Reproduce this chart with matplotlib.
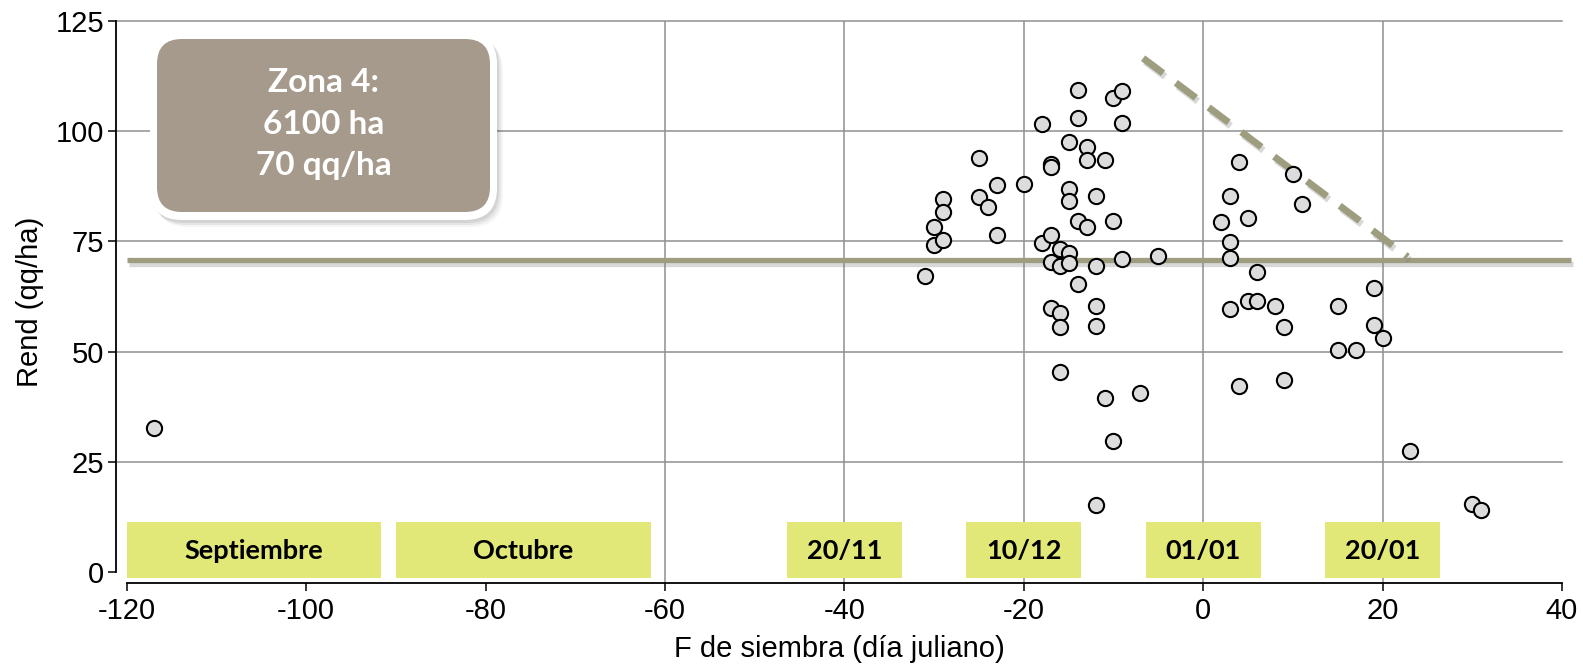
import matplotlib
matplotlib.use('Agg')
import matplotlib.pyplot as plt
import matplotlib.patches as mpatches
import matplotlib.transforms as mtransforms
import matplotlib.patheffects as pe
import numpy as np

plt.rc('font', family='Liberation Sans', size=21)
plt.rc('axes', unicode_minus=False)

# sowing date (julian day, 0 = 01/01) and yield (qq/ha)
dia = [-117, -31, -30, -30, -29, -29, -29, -25, -25, -24, -23, -23, -20,
       -18, -18, -17, -17, -17, -17, -17, -16, -16, -16, -16, -16,
       -15, -15, -15, -15, -15, -14, -14, -14, -14, -13, -13, -13,
       -12, -12, -12, -12, -12, -11, -11, -10, -10, -10, -9, -9, -9,
       -7, -5, 2, 3, 3, 3, 3, 4, 4, 5, 5, 6, 6, 8, 9, 9, 10, 11,
       15, 15, 17, 19, 19, 20, 23, 30, 31]
rend = [32.7, 67.2, 78.2, 74.2, 84.6, 81.7, 75.3, 93.8, 85.0, 82.8, 87.7, 76.5, 88.1,
        101.7, 74.6, 92.5, 91.8, 76.5, 70.4, 60.0, 73.3, 69.4, 58.8, 55.5, 45.5,
        97.4, 86.8, 84.1, 72.4, 70.2, 109.4, 102.9, 79.7, 65.3, 96.4, 93.4, 78.2,
        85.3, 69.4, 60.3, 55.9, 15.3, 93.4, 39.5, 107.4, 79.7, 29.8, 109.1, 101.9, 70.9,
        40.6, 71.7, 79.4, 85.3, 74.9, 71.2, 59.6, 92.9, 42.2, 80.4, 61.5, 61.5, 68.0,
        60.4, 55.6, 43.6, 90.2, 83.4, 60.4, 50.3, 50.3, 64.5, 56.0, 53.2, 27.4, 15.5, 14.1]

rend_medio = 70.7
tendencia_x = [-6.7, 22.8]
tendencia_y = [116.5, 71.5]

meses = ['Septiembre', 'Octubre']
meses_ini = [-120, -90]
meses_fin = [-91.7, -61.6]
fechas = ['20/11', '10/12', '01/01', '20/01']
fechas_x = [-40, -20, 0, 20]

olive = '#9e9d80'
yellow = '#e1e878'

fig = plt.figure(figsize=(15.83, 6.64), dpi=100)
ax = fig.add_axes([116/1583, 1 - 582.7/664, (1562 - 116)/1583, (582.7 - 20.7)/664])

ax.set_xlim(-121.2, 40)
ax.set_ylim(-2.35, 125)
for s in ['top', 'right']:
    ax.spines[s].set_visible(False)
ax.spines['left'].set_bounds(0, 125)
ax.spines['bottom'].set_bounds(-120, 40)
ax.spines['left'].set_linewidth(1.3)
ax.spines['bottom'].set_linewidth(1.3)
ax.set_xticks(np.arange(-120, 41, 20))
ax.set_yticks(np.arange(0, 126, 25))
ax.tick_params(direction='out', length=5.5, width=1.1, pad=3)
ax.tick_params(axis='x', pad=5)

# gridlines
for yv in [25, 50, 75, 100, 125]:
    ax.axhline(yv, color='#8f8f8f', lw=1.1, zorder=1, clip_on=False)
for xv in fechas_x + [-60]:
    ax.axvline(xv, color='#8f8f8f', lw=1.1, zorder=1)

# month / date labels
for lab, a, b in zip(meses, meses_ini, meses_fin):
    ax.add_patch(mpatches.Rectangle((a, -1.2), b - a, 12.6, fc=yellow, ec='none', zorder=2))
    ax.text((a + b) / 2, 4.8, lab, ha='center', va='center', family='Lato',
            weight='bold', fontsize=19.5, zorder=3)
for lab, xv in zip(fechas, fechas_x):
    ax.add_patch(mpatches.Rectangle((xv - 6.4, -1.2), 12.8, 12.6, fc=yellow, ec='none', zorder=2))
    ax.text(xv, 4.8, lab, ha='center', va='center', family='Lato',
            weight='bold', fontsize=19.5, zorder=3)

shadow = [pe.SimpleLineShadow(offset=(1.5, -2.5), shadow_color='gray', alpha=0.3), pe.Normal()]
ax.plot([-120, 41], [rend_medio, rend_medio], color=olive, lw=3.8, zorder=4,
        clip_on=False, path_effects=shadow, solid_capstyle='butt')
ax.plot(tendencia_x, tendencia_y, color=olive, lw=5, linestyle=(0, (3.6, 2.3)),
        dash_capstyle='butt', zorder=4, path_effects=shadow)

ax.scatter(dia, rend, s=120, facecolor='#dcdcdc', edgecolor='black', linewidths=1.5, zorder=5)

ax.set_xlabel('F de siembra (día juliano)', fontsize=21, labelpad=7)
ax.set_ylabel('Rend (qq/ha)', fontsize=21, labelpad=8)

# zone info box (pixel coordinates)
ident = mtransforms.IdentityTransform()
H = 664
def box(x0, y0, x1, y1, r, **kw):
    return mpatches.FancyBboxPatch((x0, H - y1), x1 - x0, y1 - y0,
                                   boxstyle='round,pad=0,rounding_size=%g' % r,
                                   transform=ident, **kw)
for d, a in [(7, 0.04), (5, 0.06), (3, 0.08)]:
    fig.add_artist(box(150 + d - 1, 32 + d, 497 + d - 1, 220 + d, 32, fc='black', ec='none', alpha=a))
fig.add_artist(box(150, 32, 497, 220, 32, fc='white', ec='none'))
fig.add_artist(box(157, 39, 490, 212, 25, fc='#a59a8b', ec='none'))
for txt, yv in zip(['Zona 4:', '6100 ha', '70 qq/ha'], [82, 124, 166]):
    fig.text(323.5, H - yv, txt, transform=ident, ha='center', va='center',
             family='Lato', weight='bold', fontsize=24, color='white')

plt.savefig('out.png', dpi=100)
